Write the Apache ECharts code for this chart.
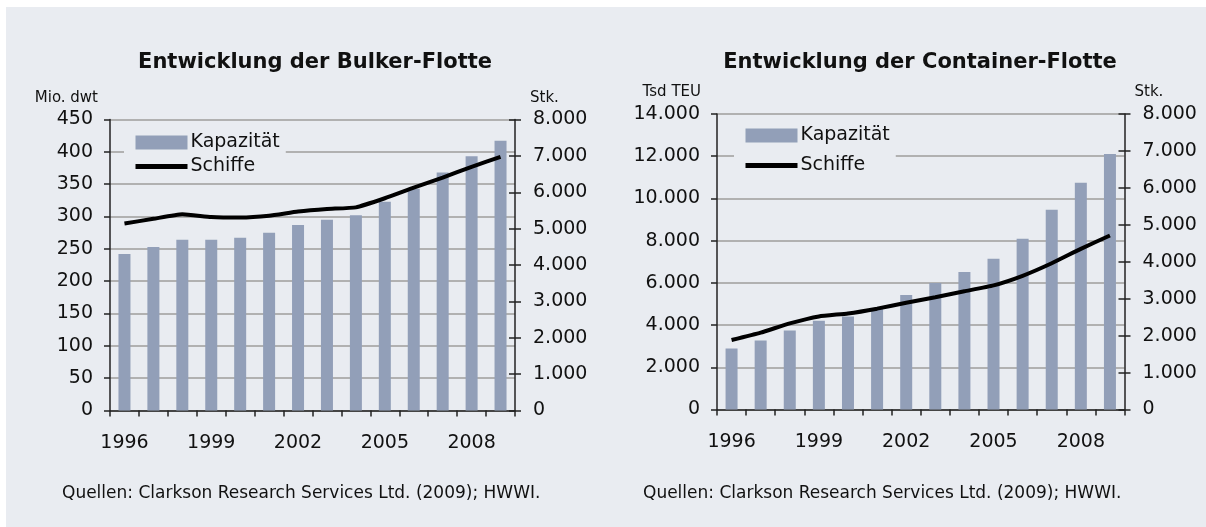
<!DOCTYPE html>
<html>
<head>
<meta charset="utf-8">
<script src="https://cdn.jsdelivr.net/npm/echarts@6/dist/echarts.min.js"></script>
<style>
  html, body { margin:0; padding:0; background:#fff; }
  #chart { width:1206px; height:527px; }
</style>
</head>
<body>
<div id="chart"></div>
<script>

var years = ["1996","1997","1998","1999","2000","2001","2002","2003","2004","2005","2006","2007","2008","2009"];

// Bulker: Kapazität in Mio. dwt, Schiffe in Stk.
var bulkerCapacity = [242,253,264,264,267,275,287,295,302,323,343,368,393,417];
var bulkerShips = [5140,5270,5395,5320,5305,5355,5470,5540,5585,5835,6125,6400,6700,6975];

// Container: Kapazität in Tsd TEU, Schiffe in Stk.
var containerCapacity = [2890,3270,3740,4210,4410,4760,5430,5990,6520,7140,8090,9460,10740,12110];
var containerShips = [1880,2080,2330,2520,2600,2730,2890,3040,3200,3360,3620,3960,4350,4710];

var leftTicks = { min:0, max:450, interval:50 };
var stkTicks = { min:0, max:8000, interval:1000 };
var teuTicks = { min:0, max:14000, interval:2000 };

var FONT = "DejaVu Sans";
var BG = "#e9ecf1";
var BAR = "#929fb8";
var GRID = "#b1b1b1";
var AXIS = "#222";

function dots(v){
  return String(v).replace(/\B(?=(\d{3})+(?!\d))/g, ".");
}

var chart = echarts.init(document.getElementById("chart"));

function xAxisFor(gridIndex){
  return {
    type:"category",
    gridIndex:gridIndex,
    data:years,
    boundaryGap:true,
    axisLine:{ show:true, lineStyle:{ color:AXIS, width:1.5 } },
    axisTick:{ show:true, interval:0, length:6, lineStyle:{ color:AXIS, width:1.5 } },
    axisLabel:{ interval:2, margin:23, color:"#111", fontFamily:FONT, fontSize:19 },
    splitLine:{ show:false }
  };
}

function leftAxis(gridIndex, ticks, name, pad){
  return {
    type:"value",
    gridIndex:gridIndex,
    position:"left",
    min:ticks.min, max:ticks.max, interval:ticks.interval,
    name:name,
    nameLocation:"end",
    nameGap:14,
    nameTextStyle:{ align:"right", padding:[0,pad,0,0], color:"#111", fontFamily:FONT, fontSize:15 },
    axisLine:{ show:true, lineStyle:{ color:AXIS, width:1.5 } },
    axisTick:{ show:true, length:6, lineStyle:{ color:AXIS, width:1.5 } },
    axisLabel:{ margin:17, color:"#111", fontFamily:FONT, fontSize:19, formatter:dots },
    splitLine:{ show:true, lineStyle:{ color:GRID, width:2 } }
  };
}

function rightAxis(gridIndex, name, pad){
  return {
    type:"value",
    gridIndex:gridIndex,
    position:"right",
    min:stkTicks.min, max:stkTicks.max, interval:stkTicks.interval,
    name:name,
    nameLocation:"end",
    nameGap:14,
    nameTextStyle:{ align:"left", padding:[0,0,0,pad], color:"#111", fontFamily:FONT, fontSize:15 },
    axisLine:{ show:true, lineStyle:{ color:AXIS, width:1.5 } },
    axisTick:{ show:true, length:6, lineStyle:{ color:AXIS, width:1.5 } },
    axisLabel:{ margin:18, color:"#111", fontFamily:FONT, fontSize:19, formatter:dots },
    splitLine:{ show:false }
  };
}

// inner half of the crossing ticks on the right axis
function rightInnerTicks(gridIndex){
  return {
    type:"value",
    gridIndex:gridIndex,
    position:"right",
    min:stkTicks.min, max:stkTicks.max, interval:stkTicks.interval,
    axisLine:{ show:false },
    axisTick:{ show:true, inside:true, length:6, lineStyle:{ color:AXIS, width:1.5 } },
    axisLabel:{ show:false },
    splitLine:{ show:false }
  };
}

function legendFor(left, top, gap){
  return {
    orient:"vertical",
    left:left,
    top:top,
    itemWidth:52,
    itemHeight:14,
    itemGap:gap,
    padding:[4,6,4,9],
    backgroundColor:BG,
    selectedMode:false,
    textStyle:{ color:"#111", fontFamily:FONT, fontSize:19, padding:[0,0,0,-2] },
    data:[
      { name:"Kapazität", icon:"rect" },
      { name:"Schiffe", itemStyle:{ opacity:0 }, lineStyle:{ color:"#000", width:5 } }
    ]
  };
}

var option = {
  backgroundColor:"#fff",
  animation:false,

  graphic:[
    { type:"rect", left:6, top:7, shape:{ width:1200, height:520 }, style:{ fill:BG }, z:-10 },
    { type:"text", x:315, y:63, style:{ text:"Entwicklung der Bulker-Flotte", fill:"#111", font:"bold 21px 'DejaVu Sans'", textAlign:"center", textVerticalAlign:"middle" } },
    { type:"text", x:920, y:63, style:{ text:"Entwicklung der Container-Flotte", fill:"#111", font:"bold 21px 'DejaVu Sans'", textAlign:"center", textVerticalAlign:"middle" } },
    { type:"text", x:62, y:494, style:{ text:"Quellen: Clarkson Research Services Ltd. (2009); HWWI.", fill:"#111", font:"17px 'DejaVu Sans'", textVerticalAlign:"middle" } },
    { type:"text", x:643, y:494, style:{ text:"Quellen: Clarkson Research Services Ltd. (2009); HWWI.", fill:"#111", font:"17px 'DejaVu Sans'", textVerticalAlign:"middle" } }
  ],

  legend:[
    legendFor(124, 129, 5),
    legendFor(734, 122, 11)
  ],

  grid:[
    { left:110, right:691, top:119.5, bottom:116.5 },
    { left:717, right:81.5, top:114, bottom:117.5 }
  ],

  xAxis:[ xAxisFor(0), xAxisFor(1) ],

  yAxis:[
    leftAxis(0, leftTicks, "Mio. dwt", 12),
    rightAxis(0, "Stk.", 15),
    leftAxis(1, teuTicks, "Tsd TEU", 16),
    rightAxis(1, "Stk.", 10),
    rightInnerTicks(0),
    rightInnerTicks(1)
  ],

  series:[
    {
      name:"Kapazität",
      type:"bar",
      xAxisIndex:0, yAxisIndex:0,
      barWidth:12,
      itemStyle:{ color:BAR },
      data:bulkerCapacity
    },
    {
      name:"Schiffe",
      type:"line",
      xAxisIndex:0, yAxisIndex:1,
      symbol:"none",
      smooth:0.15,
      lineStyle:{ color:"#000", width:4 },
      itemStyle:{ color:"#000" },
      data:bulkerShips
    },
    {
      name:"Kapazität",
      type:"bar",
      xAxisIndex:1, yAxisIndex:2,
      barWidth:12,
      itemStyle:{ color:BAR },
      data:containerCapacity
    },
    {
      name:"Schiffe",
      type:"line",
      xAxisIndex:1, yAxisIndex:3,
      symbol:"none",
      smooth:0.15,
      lineStyle:{ color:"#000", width:4 },
      itemStyle:{ color:"#000" },
      data:containerShips
    }
  ]
};

chart.setOption(option);

</script>
</body>
</html>
